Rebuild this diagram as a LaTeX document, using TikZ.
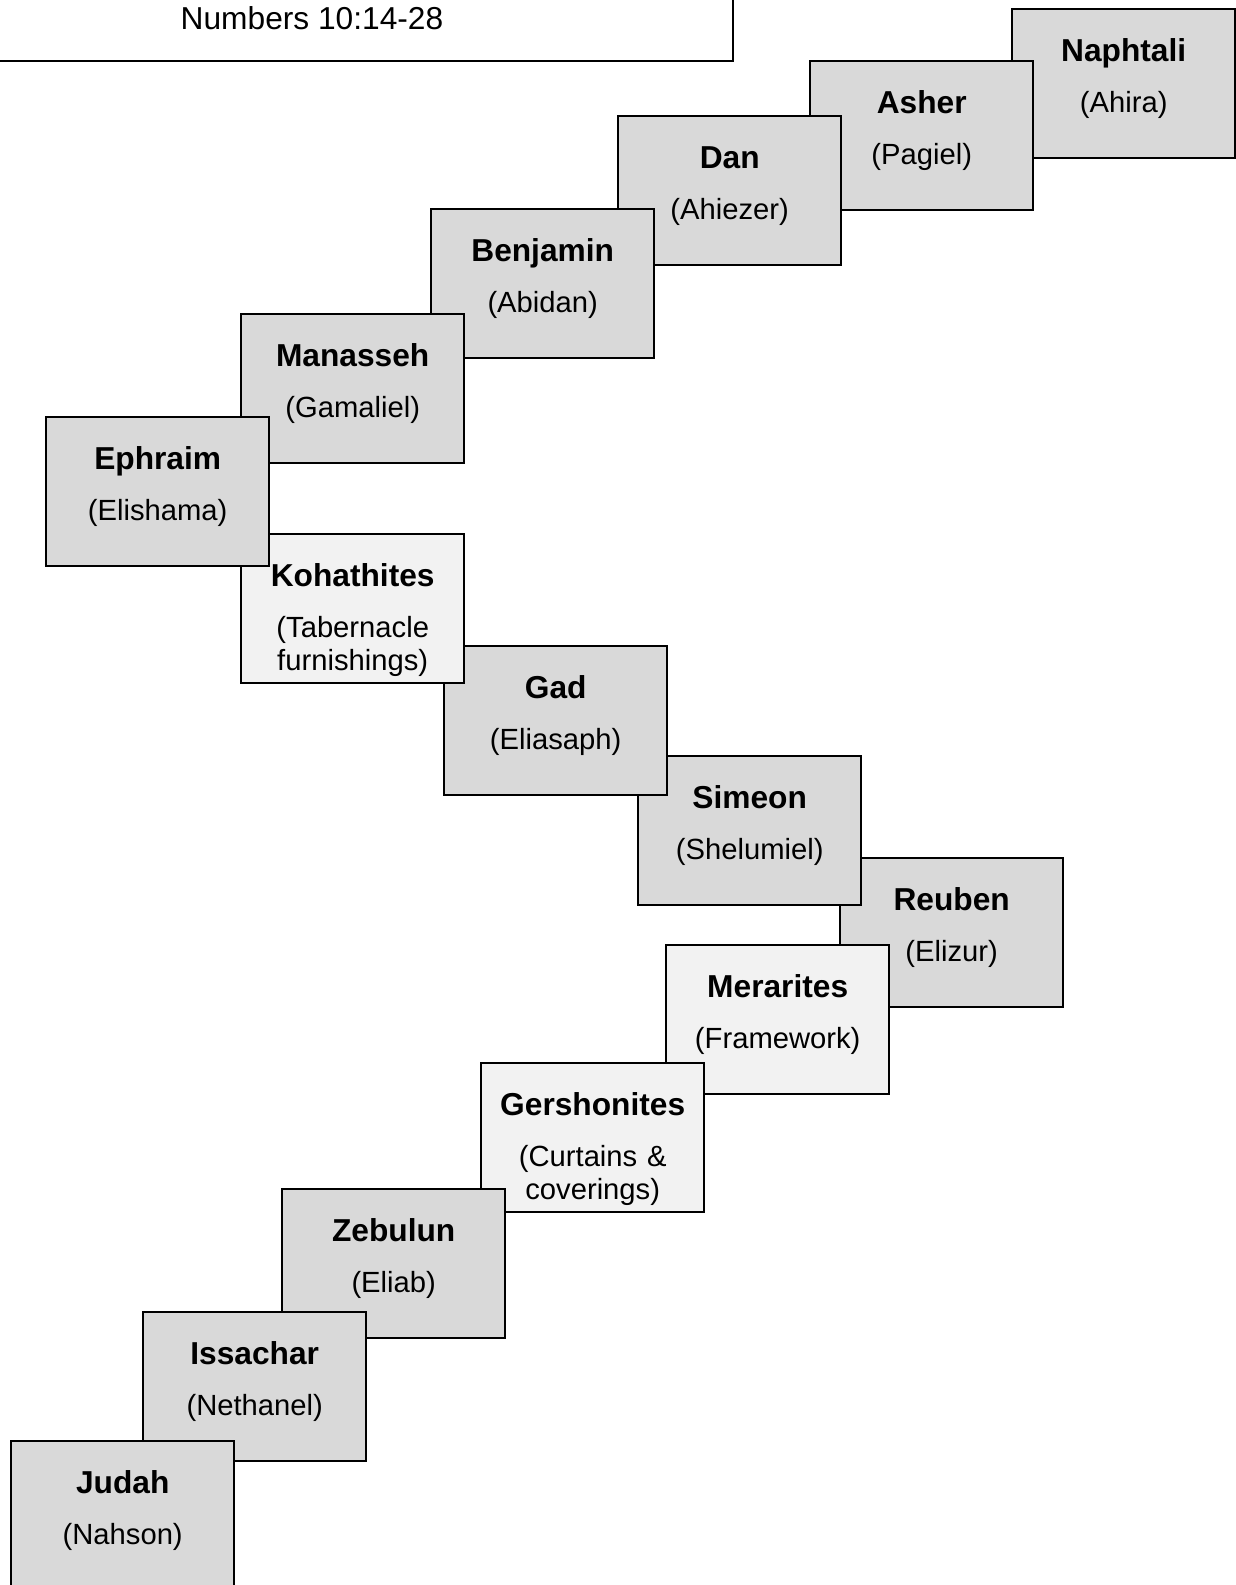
\documentclass[tikz,border=0pt]{standalone}
\usepackage{fontspec}
\setmainfont{Liberation Sans}
\definecolor{tribegray}{HTML}{D9D9D9}
\definecolor{levitegray}{HTML}{F2F2F2}
\newcommand{\tribename}[1]{{\fontsize{31.7pt}{33.6pt}\selectfont\bfseries #1}}
\begin{document}
\begin{tikzpicture}[x=1pt, y=-1pt,
                tribe/.style={draw, line width=2pt, fill=tribegray, anchor=north west, inner sep=0pt,
                    text width=223.4pt, align=center, text height=52.6pt, text depth=96pt,
                    font=\fontsize{29.2pt}{33.6pt}\selectfont},
                levite/.style={tribe, fill=levitegray}]
                \useasboundingbox (0,0) rectangle (1235,1585);

                \node[draw, line width=2pt, fill=white, minimum width=842pt, minimum height=85pt,
                    font=\fontsize{31.7pt}{36pt}\selectfont] (ref) at (312,18) {Numbers 10:14-28};

                \node[tribe] (naphtali) at (1011,8) {\tribename{Naphtali}\\[16.8pt](Ahira)};
                \node[tribe] (asher) at (809,60) {\tribename{Asher}\\[16.8pt](Pagiel)};
                \node[tribe] (dan) at (617,115) {\tribename{Dan}\\[16.8pt](Ahiezer)};
                \node[tribe] (benjamin) at (430,208) {\tribename{Benjamin}\\[16.8pt](Abidan)};
                \node[tribe] (manasseh) at (240,313) {\tribename{Manasseh}\\[16.8pt](Gamaliel)};
                \node[tribe] (reuben) at (839,857) {\tribename{Reuben}\\[16.8pt](Elizur)};
                \node[tribe] (simeon) at (637,755) {\tribename{Simeon}\\[16.8pt](Shelumiel)};
                \node[tribe] (gad) at (443,645) {\tribename{Gad}\\[16.8pt](Eliasaph)};
                \node[levite] (kohathites) at (240,533) {\tribename{Kohathites}\\[16.8pt](Tabernacle\\furnishings)};
                \node[tribe] (ephraim) at (45,416) {\tribename{Ephraim}\\[16.8pt](Elishama)};
                \node[levite] (merarites) at (665,944) {\tribename{Merarites}\\[16.8pt](Framework)};
                \node[levite] (gershonites) at (480,1062) {\tribename{Gershonites}\\[16.8pt](Curtains \&\\coverings)};
                \node[tribe] (zebulun) at (281,1188) {\tribename{Zebulun}\\[16.8pt](Eliab)};
                \node[tribe] (issachar) at (142,1311) {\tribename{Issachar}\\[16.8pt](Nethanel)};
                \node[tribe] (judah) at (10,1440) {\tribename{Judah}\\[16.8pt](Nahson)};
            \end{tikzpicture}
\end{document}
